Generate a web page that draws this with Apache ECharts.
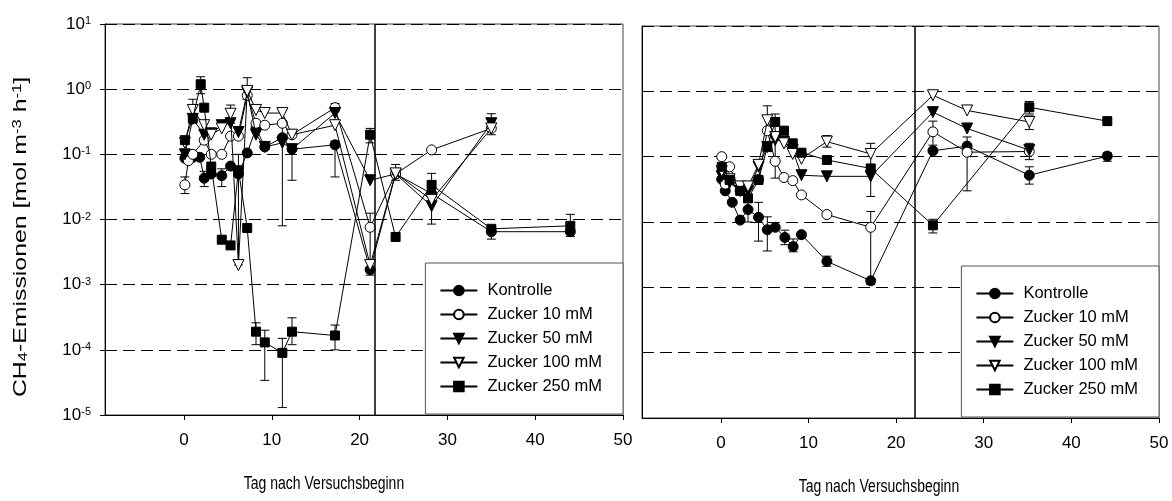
<!DOCTYPE html>
<html><head><meta charset="utf-8">
<script src="https://cdn.jsdelivr.net/npm/echarts@6/dist/echarts.min.js"></script>
<style>html,body{margin:0;padding:0;background:#fff}#c{width:1172px;height:501px}</style>
</head><body><div id="c"></div>
<script>
// ---------- data ----------
const seriesNames = ['Kontrolle', 'Zucker 10 mM', 'Zucker 50 mM', 'Zucker 100 mM', 'Zucker 250 mM'];
const xTickValues = [0, 10, 20, 30, 40, 50];
const yMin = 1e-5, yMax = 10;
const xTitle = 'Tag nach Versuchsbeginn';
const cutDays = [21.7, 22.1];

// left panel  [day, value]
const leftKontrolle = [[0.1,0.087],[1.0,0.09],[1.8,0.09],[2.3,0.043],[3.1,0.05],[4.3,0.047],[5.3,0.066],[6.2,0.05],[7.2,0.105],[8.2,0.25],[9.2,0.13],[11.2,0.18],[12.3,0.12],[17.2,0.14],[21.2,0.0017],[24.1,0.05],[28.2,0.025],[35,0.0065],[44,0.0065]];
const left10 = [[0.1,0.034],[0.5,0.08],[1.0,0.1],[2.3,0.165],[3.1,0.1],[4.3,0.1],[5.3,0.19],[6.2,0.19],[7.2,0.8],[8.2,0.3],[9.2,0.28],[11.2,0.3],[12.3,0.2],[17.2,0.52],[21.2,0.0076],[24.1,0.05],[28.2,0.117],[35,0.25]];
const left50 = [[0.1,0.1],[1.0,0.35],[2.3,0.2],[3.1,0.21],[4.3,0.28],[5.3,0.3],[6.2,0.22],[7.2,0.9],[8.2,0.2],[9.2,0.13],[11.2,0.15],[12.3,0.12],[17.2,0.43],[21.2,0.04],[24.1,0.05],[28.2,0.016],[35,0.3]];
const left100 = [[0.1,0.15],[1.0,0.48],[2.3,0.28],[3.1,0.2],[4.3,0.25],[5.3,0.42],[6.2,0.002],[7.2,0.94],[8.2,0.48],[9.2,0.43],[11.2,0.43],[12.3,0.2],[17.2,0.28],[21.2,0.002],[24.1,0.051],[28.2,0.02],[35,0.25]];
const left250 = [[0.1,0.165],[1.0,0.36],[1.9,1.19],[2.3,0.52],[3.1,0.065],[4.3,0.0049],[5.3,0.004],[6.2,0.057],[7.2,0.0074],[8.2,0.00019],[9.2,0.00013],[11.2,0.00009],[12.3,0.00019],[17.2,0.000166],[21.2,0.2],[24.1,0.0054],[28.2,0.034],[35,0.0072],[44,0.008]];
// left error bars [day, low, high]
const leftErrors = [[1.9,0.85,1.55],[7.2,0.7,1.5],[0.1,0.025,0.045],[2.3,0.032,0.055],[4.3,0.032,0.06],[6.2,0.002,0.1],[5.3,0.3,0.57],[1.0,0.3,0.7],[8.2,0.00012,0.00026],[9.2,0.000034,0.0002],[11.2,0.000013,0.00015],[12.3,0.00012,0.00031],[17.2,0.0001,0.00024],[11.2,0.008,0.5],[12.3,0.04,0.14],[17.2,0.045,0.16],[17.2,0.45,0.6],[21.2,0.0014,0.0125],[21.2,0.15,0.25],[24.1,0.04,0.07],[28.2,0.0085,0.051],[35,0.2,0.42],[35,0.005,0.008],[44,0.0055,0.012]];

// right panel [day, value]
const rightKontrolle = [[0.1,0.045],[0.5,0.03],[1.3,0.02],[2.2,0.0107],[3.1,0.0155],[4.3,0.0118],[5.3,0.0076],[6.2,0.0083],[7.3,0.0058],[8.25,0.0042],[9.2,0.0064],[12.1,0.0025],[17.1,0.00126],[24.2,0.123],[28.1,0.145],[35.2,0.052],[44.1,0.102]];
const right10 = [[0.1,0.1],[0.5,0.038],[1.0,0.07],[2.2,0.03],[3.1,0.035],[4.3,0.045],[5.3,0.25],[6.2,0.085],[7.2,0.048],[8.2,0.043],[9.2,0.026],[12.1,0.013],[17.1,0.0083],[24.2,0.24],[28.1,0.117],[35.2,0.12]];
const right50 = [[0.1,0.05],[1.0,0.04],[2.2,0.03],[3.1,0.03],[4.3,0.07],[5.3,0.14],[6.2,0.18],[7.2,0.17],[8.2,0.126],[9.2,0.052],[12.1,0.05],[17.1,0.05],[24.2,0.48],[28.1,0.27],[35.2,0.126]];
const right100 = [[0.1,0.06],[1.0,0.045],[2.2,0.035],[3.1,0.035],[4.3,0.075],[5.3,0.36],[6.2,0.2],[7.2,0.16],[8.2,0.11],[9.2,0.093],[12.1,0.17],[17.1,0.11],[24.2,0.87],[28.1,0.51],[35.2,0.34]];
const right250 = [[0.1,0.07],[1.0,0.044],[2.2,0.03],[3.1,0.023],[4.3,0.044],[5.3,0.14],[6.2,0.34],[7.2,0.25],[8.2,0.16],[9.2,0.115],[12.1,0.089],[17.1,0.066],[24.2,0.0089],[35.2,0.57],[44.1,0.35]];
const rightErrors = [[4.3,0.0051,0.02],[5.3,0.0036,0.012],[5.3,0.25,0.6],[6.2,0.047,0.45],[7.3,0.0045,0.0075],[8.25,0.0035,0.0055],[3.1,0.01,0.02],[12.1,0.0021,0.003],[12.1,0.14,0.21],[17.1,0.0011,0.0145],[17.1,0.0246,0.16],[24.2,0.15,0.35],[24.2,0.0068,0.011],[28.1,0.03,0.2],[35.2,0.038,0.07],[35.2,0.45,0.7],[35.2,0.26,0.42],[35.2,0.09,0.16],[44.1,0.085,0.115],[44.1,0.3,0.38]];

// ---------- styling ----------
const FONT = 'Liberation Sans, Arial, Helvetica, sans-serif';
const symbols = ['circle', 'circle', 'triangle', 'triangle', 'rect'];
const filled = [true, false, true, false, true];
const rotations = [0, 0, 180, 180, 0];
const sizes = [10, 10, 11, 11, 9];

const leftData = [leftKontrolle, left10, left50, left100, left250];
const rightData = [rightKontrolle, right10, right50, right100, right250];

function lineSeries(data, i, axis) {
  return {
    type: 'line', name: seriesNames[i], data: data,
    xAxisIndex: axis, yAxisIndex: axis,
    symbol: symbols[i], symbolSize: sizes[i], symbolRotate: rotations[i],
    showSymbol: true, showAllSymbol: true,
    lineStyle: { color: '#000', width: 1 },
    itemStyle: { color: filled[i] ? '#000' : '#fff', borderColor: '#000', borderWidth: 1, opacity: 1 },
    emphasis: { disabled: true }, z: 3 + i * 0.01, animation: false
  };
}
function errSeries(data, axis) {
  return {
    type: 'custom', data: data, xAxisIndex: axis, yAxisIndex: axis, silent: true, z: 2, animation: false,
    renderItem: function (params, api) {
      const x = api.value(0);
      const a = api.coord([x, api.value(1)]);
      const b = api.coord([x, api.value(2)]);
      const w = 4.5;
      const st = { stroke: '#000', lineWidth: 1 };
      return { type: 'group', children: [
        { type: 'line', shape: { x1: a[0], y1: a[1], x2: b[0], y2: b[1] }, style: st },
        { type: 'line', shape: { x1: a[0] - w, y1: a[1], x2: a[0] + w, y2: a[1] }, style: st },
        { type: 'line', shape: { x1: b[0] - w, y1: b[1], x2: b[0] + w, y2: b[1] }, style: st }
      ] };
    }
  };
}
function cutLine(day, axis) {
  return {
    type: 'line', data: [], xAxisIndex: axis, yAxisIndex: axis, z: 4, animation: false,
    markLine: { silent: true, symbol: 'none', label: { show: false },
      lineStyle: { color: '#000', width: 1.5, type: 'solid' },
      data: [{ xAxis: day }] }
  };
}
function xAxisOpt(grid) {
  return {
    type: 'value', gridIndex: grid, min: -9, max: 50,
    axisLine: { show: true, onZero: false, lineStyle: { color: '#000', width: 1 } },
    axisTick: { show: true, customValues: xTickValues, length: 5, lineStyle: { color: '#000' } },
    axisLabel: { show: true, customValues: xTickValues, color: '#000', fontSize: 17, fontFamily: FONT, margin: 17 },
    splitLine: { show: false }
  };
}
function yAxisOpt(grid, labels) {
  return {
    type: 'log', logBase: 10, gridIndex: grid, min: yMin, max: yMax,
    axisLine: { show: true, onZero: false, lineStyle: { color: '#000', width: 1 } },
    axisTick: { show: labels, inside: false, length: 5, lineStyle: { color: '#000' } },
    axisLabel: { show: labels, color: '#000', fontSize: 17, fontFamily: FONT, margin: 14,
      formatter: function (v) { return '10{s|' + Math.round(Math.log10(v)) + '}'; },
      rich: { s: { fontSize: 11, fontFamily: FONT, color: '#000', verticalAlign: 'top', padding: [0, 0, 6, 0] } } },
    splitLine: { show: true, lineStyle: { color: '#000', width: 1, type: [12, 6] } },
    minorSplitLine: { show: false }
  };
}
function legendOpt(pos) {
  return Object.assign({
    orient: 'vertical', data: seriesNames,
    backgroundColor: '#fff', borderColor: '#555', borderWidth: 1,
    padding: [19, 21, 19, 14], itemWidth: 37, itemHeight: 12, itemGap: 7,
    textStyle: { color: '#000', fontSize: 16.5, lineHeight: 16, fontFamily: FONT, padding: [0, 0, 0, 5] },
    selectedMode: false, inactiveColor: '#000', z: 10
  }, pos);
}

const series = [];
leftData.forEach((d, i) => series.push(lineSeries(d, i, 0)));
rightData.forEach((d, i) => series.push(lineSeries(d, i, 1)));
series.push(errSeries(leftErrors, 0));
series.push(errSeries(rightErrors, 1));
series.push(cutLine(cutDays[0], 0));
series.push(cutLine(cutDays[1], 1));

const option = {
  animation: false,
  backgroundColor: '#fff',
  grid: [
    { left: 105, top: 24, width: 518, height: 391, show: true, borderColor: '#444', borderWidth: 1, backgroundColor: 'transparent' },
    { left: 642, top: 26, width: 517, height: 392, show: true, borderColor: '#444', borderWidth: 1, backgroundColor: 'transparent' }
  ],
  xAxis: [xAxisOpt(0), xAxisOpt(1)],
  yAxis: [yAxisOpt(0, true), yAxisOpt(1, false)],
  legend: [legendOpt({ right: 549, top: 263 }), legendOpt({ right: 13, top: 266 })],
  graphic: [
    { type: 'text', x: 21, y: 237, rotation: Math.PI / 2, scaleX: 1.38, silent: true,
      style: { text: 'CH{sub|4}-Emissionen [mol m{sup|-3} h{sup|-1}]', fill: '#000', fontSize: 18, fontFamily: FONT,
        align: 'center', verticalAlign: 'middle',
        rich: { sub: { fontSize: 12, fontFamily: FONT, verticalAlign: 'bottom', padding: [6, 0, 0, 0] },
                sup: { fontSize: 12, fontFamily: FONT, verticalAlign: 'top', padding: [0, 0, 6, 0] } } } },
    { type: 'text', x: 324, y: 484, scaleY: 1.35, silent: true,
      style: { text: xTitle, fill: '#000', fontSize: 14, fontFamily: FONT, align: 'center', verticalAlign: 'middle' } },
    { type: 'text', x: 879, y: 487, scaleY: 1.35, silent: true,
      style: { text: xTitle, fill: '#000', fontSize: 14, fontFamily: FONT, align: 'center', verticalAlign: 'middle' } }
  ],
  series: series
};
const chart = echarts.init(document.getElementById('c'), null, { renderer: 'canvas' });
chart.setOption(option);
</script>
</body></html>
